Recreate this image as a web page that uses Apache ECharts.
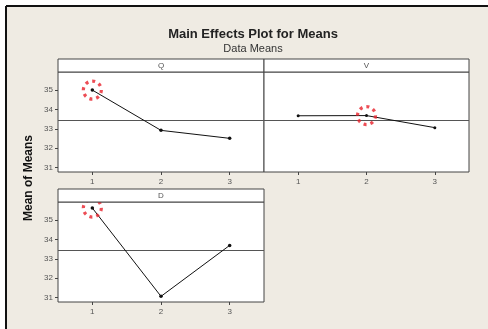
<!DOCTYPE html>
<html>
<head>
<meta charset="utf-8">
<script src="https://cdn.jsdelivr.net/npm/echarts@6/dist/echarts.min.js"></script>
<style>html,body{margin:0;padding:0;background:#fff;}#c{width:488px;height:329px;}</style>
</head>
<body>
<div id="c"></div>
<script>
var levels = ['1', '2', '3'];
var factorNames = ['Q', 'V', 'D'];
var qMeans = [34.99, 32.92, 32.51];
var vMeans = [33.67, 33.68, 33.06];
var dMeans = [35.61, 31.07, 33.69];
var grandMean = 33.45;
var highlightLevel = ['1', '2', '1'];
var yTicks = [31, 32, 33, 34, 35];

var seriesData = [qMeans, vMeans, dMeans];
var grids = [
  {left: 58, top: 72, width: 206, height: 100},
  {left: 264, top: 72, width: 205, height: 100},
  {left: 58, top: 202, width: 206, height: 100}
];
var font = 'Liberation Sans, Arial, sans-serif';
var xAxes = [], yAxes = [], series = [], graphics = [];

graphics.push({type: 'rect', shape: {x: 6, y: 6, width: 482, height: 323}, style: {fill: '#EFEBE3'}, z: -10});
graphics.push({type: 'line', shape: {x1: 6, y1: 6, x2: 488, y2: 6}, style: {stroke: '#111', lineWidth: 2}, z: -9});
graphics.push({type: 'line', shape: {x1: 6, y1: 6, x2: 6, y2: 329}, style: {stroke: '#111', lineWidth: 2}, z: -9});

grids.forEach(function (g, i) {
  g.show = true;
  g.backgroundColor = '#fff';
  g.borderColor = '#444';
  g.borderWidth = 1;
  xAxes.push({
    gridIndex: i, type: 'category', data: levels, boundaryGap: true,
    axisLine: {show: false},
    axisTick: {show: true, alignWithLabel: true, length: 3, lineStyle: {color: '#444'}},
    axisLabel: {fontSize: 8, color: '#555', margin: 6, fontFamily: font},
    splitLine: {show: false}
  });
  yAxes.push({
    gridIndex: i, type: 'value', min: 30.78, max: 35.92,
    axisLine: {show: false},
    axisTick: {show: i !== 1, length: 3, customValues: yTicks, lineStyle: {color: '#444'}},
    axisLabel: {show: i !== 1, fontSize: 8, color: '#555', margin: 5, customValues: yTicks, fontFamily: font},
    splitLine: {show: false}
  });
  series.push({
    type: 'line', xAxisIndex: i, yAxisIndex: i, data: seriesData[i],
    symbol: 'circle', symbolSize: i === 1 ? [3, 3, 5] : 3.5,
    lineStyle: {color: '#111', width: 1},
    itemStyle: {color: '#111'},
    z: 5,
    markLine: {
      silent: true, symbol: 'none', label: {show: false},
      lineStyle: {color: '#555', width: 1.2, type: 'solid'},
      data: [{yAxis: grandMean}]
    }
  });
  var hIdx = levels.indexOf(highlightLevel[i]);
  series.push({
    type: 'scatter', xAxisIndex: i, yAxisIndex: i,
    data: [[highlightLevel[i], seriesData[i][hIdx]]],
    symbol: 'circle', symbolSize: 18,
    itemStyle: {color: 'rgba(0,0,0,0)', borderColor: '#e8202a', borderWidth: 3.2, borderType: [3, 4]},
    z: 6
  });
  graphics.push({type: 'rect', shape: {x: g.left, y: g.top - 13, width: g.width, height: 13},
    style: {fill: '#fff', stroke: '#444', lineWidth: 1}, z: 10});
  graphics.push({type: 'text', x: g.left + g.width / 2, y: g.top - 6.5,
    style: {text: factorNames[i], fontSize: 8, fill: '#555', align: 'center', verticalAlign: 'middle', fontFamily: font}, z: 11});
});

graphics.push({type: 'text', x: 29, y: 178, rotation: Math.PI / 2,
  style: {text: 'Mean of Means', fontSize: 12, fontWeight: 'bold', fill: '#111', align: 'center', verticalAlign: 'middle', fontFamily: font}, z: 11});

var chart = echarts.init(document.getElementById('c'), null, {renderer: 'canvas'});
chart.setOption({
  animation: false,
  backgroundColor: '#fff',
  title: {
    text: 'Main Effects Plot for Means', subtext: 'Data Means', left: 248, textAlign: 'center', top: 23, itemGap: 2,
    textStyle: {fontSize: 13, fontWeight: 'bold', color: '#222', fontFamily: font},
    subtextStyle: {fontSize: 11, color: '#333', fontFamily: font}
  },
  grid: grids,
  xAxis: xAxes,
  yAxis: yAxes,
  series: series,
  graphic: graphics
});
</script>
</body>
</html>
